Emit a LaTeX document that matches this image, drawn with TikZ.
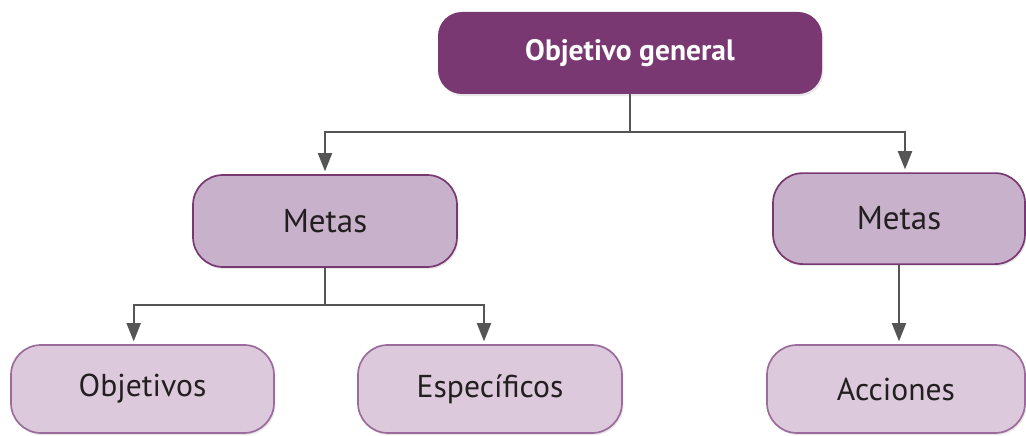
\documentclass[tikz,border=0pt]{standalone}
\usepackage{fontspec}
\setmainfont{PT Sans}
\usepackage{xcolor}
\usepackage{tikz}
\usetikzlibrary{arrows.meta,positioning,shadows}

\definecolor{plum}{HTML}{7A3873}
\definecolor{metafill}{HTML}{C8B1CA}
\definecolor{leaffill}{HTML}{DCCADC}
\definecolor{leafline}{HTML}{9B6B9B}
\definecolor{linegray}{HTML}{555555}
\definecolor{ink}{HTML}{231F20}

\begin{document}
\begin{tikzpicture}[
  topbox/.style={rounded corners=0.6cm, fill=plum, text=white, minimum width=9.6cm, minimum height=2.05cm,
    font=\fontsize{21}{25}\selectfont\bfseries, drop shadow={opacity=0.18, shadow xshift=1pt, shadow yshift=-1.5pt}},
  metabox/.style={draw=plum, line width=1.2pt, rounded corners=0.75cm, fill=metafill, text=ink,
    minimum width=6.6cm, minimum height=2.3cm, font=\fontsize{23.5}{28}\selectfont,
    drop shadow={opacity=0.18, shadow xshift=1pt, shadow yshift=-1.5pt}},
  leafbox/.style={draw=leafline, line width=1.2pt, rounded corners=0.75cm, fill=leaffill, text=ink,
    minimum width=6.6cm, minimum height=2.2cm, font=\fontsize{22.5}{27}\selectfont,
    drop shadow={opacity=0.18, shadow xshift=1pt, shadow yshift=-1.5pt}},
  link/.style={draw=linegray, line width=1.4pt},
  arrow/.style={link, -{Triangle[length=13pt, width=10pt]}, shorten >=2pt}
]
  \useasboundingbox (0,0) rectangle (25.65,10.875);

  \node[topbox] (og) at (15.75,9.55) {Objetivo general};
  \node[metabox] (ml) at (8.125,5.35) {Metas};
  \node[metabox, minimum width=6.3cm, minimum height=2.275cm] (mr) at (22.475,5.41) {Metas};
  \node[leafbox, minimum width=6.575cm] (obj) at (3.5625,1.15) {Objetivos};
  \node[leafbox] (esp) at (12.25,1.15) {Específicos};
  \node[leafbox, minimum width=6.45cm] (acc) at (22.4,1.15) {Acciones};

  \coordinate (j1) at (15.75,7.575);
  \coordinate (j2) at (8.125,3.25);

  \draw[link] (og) -- (j1);
  \draw[arrow] (j1) -| (ml);
  \draw[arrow] (j1) -| ([xshift=0.15cm]mr.north);
  \draw[link] (ml) -- (j2);
  \draw[arrow] (j2) -| ([xshift=-0.22cm]obj.north);
  \draw[arrow] (j2) -| ([xshift=-0.15cm]esp.north);
  \draw[arrow] (mr.south) -- (mr.south |- acc.north);
\end{tikzpicture}
\end{document}
